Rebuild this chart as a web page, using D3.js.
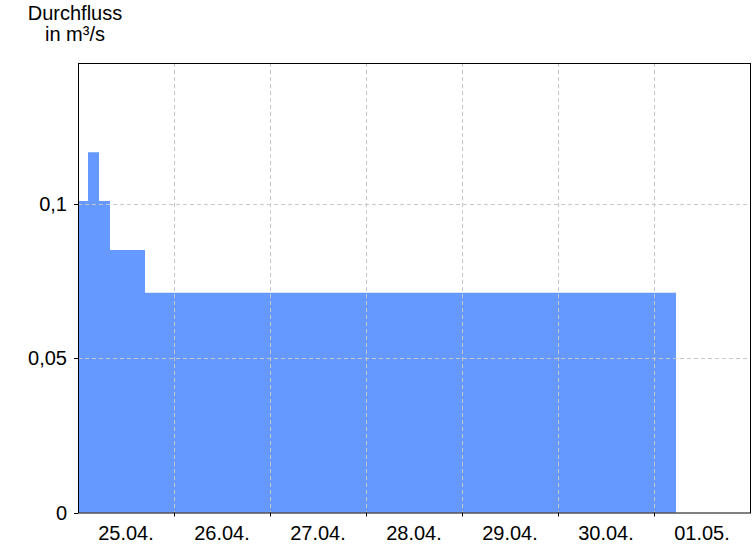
<!DOCTYPE html>
<html><head><meta charset="utf-8">
<script src="https://cdn.jsdelivr.net/npm/d3@7"></script>
<style>body{margin:0;background:#fff}svg{display:block}text{font-family:"Liberation Sans",Arial,sans-serif}</style>
</head><body>
<script>
// Data: step series (time of change, value in m³/s)
const stepTimes = ["2025-04-25T00:00","2025-04-25T02:30","2025-04-25T05:15","2025-04-25T08:00","2025-04-25T16:45","2025-05-01T05:30"];
const stepValues = [0.101, 0.1168, 0.101, 0.0851, 0.0712, 0.0712];
const yTicks = [0, 0.05, 0.1];
const yTickLabels = ["0", "0,05", "0,1"];
const dayLabels = ["25.04.","26.04.","27.04.","28.04.","29.04.","30.04.","01.05."];
const titleLines = ["Durchfluss", "in m³/s"];

const W = 756, H = 546;
const m = {left: 78, right: 751, top: 63, bottom: 512.5};
const parse = d3.timeParse("%Y-%m-%dT%H:%M");
const data = stepTimes.map((t, i) => ({t: parse(t), v: stepValues[i]}));

const x = d3.scaleTime()
  .domain([parse("2025-04-25T00:00"), parse("2025-05-02T00:00")])
  .range([m.left, m.right - 1]);
const y = d3.scaleLinear().domain([0, 0.1457]).range([m.bottom, m.top]);

const svg = d3.select("body").append("svg").attr("width", W).attr("height", H);

// area
svg.append("path").datum(data)
  .attr("fill", "#6699ff")
  .attr("d", d3.area().curve(d3.curveStepAfter).x(d => x(d.t)).y0(y(0)).y1(d => y(d.v)));

// gridlines
const midnights = d3.range(1, 7).map(i => d3.timeDay.offset(parse("2025-04-25T00:00"), i));
const grid = svg.append("g").attr("stroke", "#c8c8c8").attr("stroke-dasharray", "4,3").attr("stroke-width", 1);
grid.selectAll("line.v").data(midnights).join("line")
  .attr("x1", d => Math.round(x(d)) + 0.5).attr("x2", d => Math.round(x(d)) + 0.5)
  .attr("y1", m.top).attr("y2", m.bottom);
grid.selectAll("line.h").data(yTicks.filter(d => d > 0)).join("line")
  .attr("y1", d => Math.round(y(d)) + 0.5).attr("y2", d => Math.round(y(d)) + 0.5)
  .attr("x1", m.left).attr("x2", m.right);

// frame
svg.append("rect").attr("x", m.left + 0.5).attr("y", m.top + 0.5)
  .attr("width", m.right - m.left - 1).attr("height", m.bottom - m.top)
  .attr("fill", "none").attr("stroke", "#000").attr("stroke-width", 1);

// y axis ticks & labels
const yAxis = svg.append("g");
yAxis.selectAll("line").data(yTicks).join("line")
  .attr("x1", m.left - 4).attr("x2", m.left)
  .attr("y1", d => Math.round(y(d)) + 0.5).attr("y2", d => Math.round(y(d)) + 0.5)
  .attr("stroke", "#000");
yAxis.selectAll("text").data(yTicks).join("text")
  .attr("x", m.left - 11).attr("y", d => y(d) + 7)
  .attr("text-anchor", "end").attr("font-size", 20).attr("fill", "#000")
  .text((d, i) => yTickLabels[i]);

// x axis ticks & labels
const xAxis = svg.append("g");
xAxis.selectAll("line").data(midnights).join("line")
  .attr("x1", d => Math.round(x(d)) + 0.5).attr("x2", d => Math.round(x(d)) + 0.5)
  .attr("y1", m.bottom).attr("y2", m.bottom + 4)
  .attr("stroke", "#000");
xAxis.selectAll("text").data(dayLabels).join("text")
  .attr("x", (d, i) => x(d3.timeHour.offset(parse("2025-04-25T00:00"), 24 * i + 12)))
  .attr("y", 540).attr("text-anchor", "middle").attr("font-size", 20).attr("fill", "#000")
  .text(d => d);

// title
svg.selectAll("text.title").data(titleLines).join("text").attr("class", "title")
  .attr("x", 75).attr("y", (d, i) => 20 + i * 21)
  .attr("text-anchor", "middle").attr("font-size", 20).attr("fill", "#000")
  .text(d => d);
</script>
</body></html>
